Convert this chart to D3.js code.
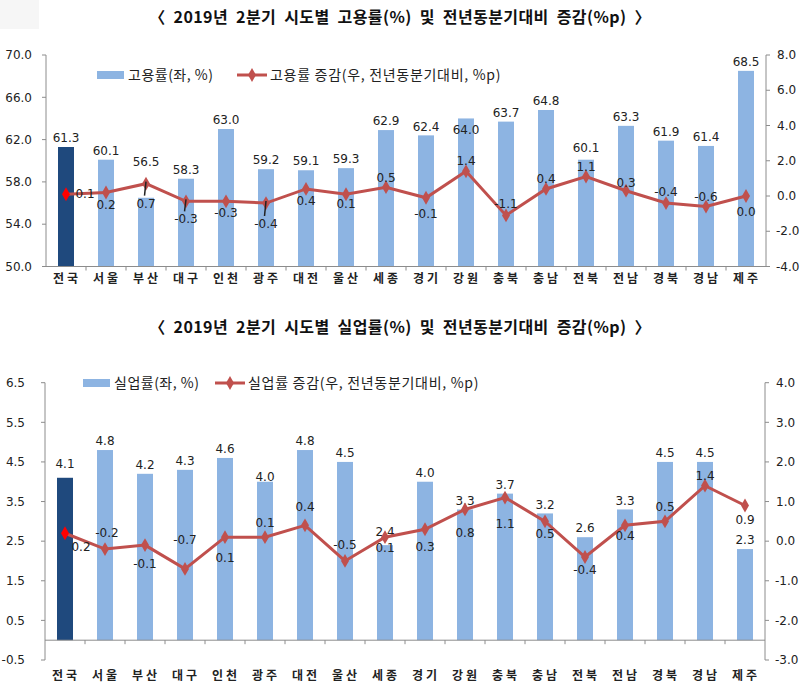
<!DOCTYPE html>
<html><head><meta charset="utf-8">
<script src="https://cdn.jsdelivr.net/npm/d3@7"></script>
<style>
body{margin:0;background:#fff;}
svg{display:block;}
</style></head>
<body>
<svg id="c" width="804" height="685"></svg>
<script>
// ---------- data ----------
const regions = ["전국","서울","부산","대구","인천","광주","대전","울산","세종","경기","강원","충북","충남","전북","전남","경북","경남","제주"];
const empRate = [61.3,60.1,56.5,58.3,63.0,59.2,59.1,59.3,62.9,62.4,64.0,63.7,64.8,60.1,63.3,61.9,61.4,68.5];
const empChange = [0.1,0.2,0.7,-0.3,-0.3,-0.4,0.4,0.1,0.5,-0.1,1.4,-1.1,0.4,1.1,0.3,-0.4,-0.6,0.0];
const unempRate = [4.1,4.8,4.2,4.3,4.6,4.0,4.8,4.5,2.4,4.0,3.3,3.7,3.2,2.6,3.3,4.5,4.5,2.3];
const unempChange = [0.2,-0.2,-0.1,-0.7,0.1,0.1,0.4,-0.5,0.1,0.3,0.8,1.1,0.5,-0.4,0.4,0.5,1.4,0.9];
const empLeftTicks = [50,54,58,62,66,70];
const empRightTicks = [-4,-2,0,2,4,6,8];
const unempLeftTicks = [-0.5,0.5,1.5,2.5,3.5,4.5,5.5,6.5];
const unempRightTicks = [-3,-2,-1,0,1,2,3,4];

// ---------- layout (label placement, not data) ----------
const empLabelDy = [0,12,20,18,12,21,12,10,-9,16,-11,-12,-10,-10,-8,-11,-10,16];
const empLabelDx = [19,0,0,0,0,0,0,0,0,0,0,0,0,0,0,0,0,0];
const empLeader = [2,3,5];
const unempLabelDy = [14,-16,19,-29,21,-14,-19,-16,11,18,23,26,12,13,10,-15,-10,14];
const unempLabelDx = [16,2,0,0,0,0,0,0,0,0,0,0,0,0,0,0,0,0];

const C_BAR = "#8DB4E2", C_BAR0 = "#1F497D", C_LINE = "#C0504D", C_AXIS = "#8c8c8c", C_TXT = "#222";
const NUM_FONT = "'DejaVu Sans', Verdana, sans-serif";
const KR_FONT = "'Noto Sans CJK KR', 'Noto Sans', sans-serif";
const fmt1 = v => v.toFixed(1);

const svg = d3.select("#c");
svg.append("rect").attr("x",0).attr("y",0).attr("width",39).attr("height",29).attr("fill","#f6f6f6");

function drawChart(o){
  const g = svg.append("g");
  const x = d3.scaleBand().domain(regions).range([o.x0, o.x1]).paddingInner(0.6).paddingOuter(0.3);
  const xb = d3.scaleBand().domain(regions).range([o.x0, o.x1]);
  const yL = d3.scaleLinear().domain(o.leftDomain).range([o.yBottom, o.yTop]);
  const yR = d3.scaleLinear().domain(o.rightDomain).range([o.yBottom, o.yTop]);
  const base = yL(o.barBase);

  // title
  g.append("text").attr("x",400).attr("y",o.titleY).attr("text-anchor","middle")
    .attr("font-family",KR_FONT).attr("font-weight","bold").attr("font-size",16)
    .attr("letter-spacing","0.4px").attr("word-spacing","4px").attr("fill","#111")
    .text(o.title);

  // left axis
  g.append("line").attr("x1",o.x0).attr("x2",o.x0).attr("y1",o.yTop).attr("y2",o.yBottom).attr("stroke",C_AXIS);
  o.leftTicks.forEach(t=>{
    g.append("line").attr("x1",o.x0-4).attr("x2",o.x0).attr("y1",yL(t)).attr("y2",yL(t)).attr("stroke",C_AXIS);
    g.append("text").attr("x",o.leftLabelX).attr("y",yL(t)).attr("dy","0.35em").attr("text-anchor","end")
      .attr("font-family",NUM_FONT).attr("font-size",12).attr("fill",C_TXT).text(fmt1(t));
  });
  // right axis
  g.append("line").attr("x1",o.x1).attr("x2",o.x1).attr("y1",o.yTop).attr("y2",o.yBottom).attr("stroke",C_AXIS);
  o.rightTicks.forEach(t=>{
    g.append("line").attr("x1",o.x1).attr("x2",o.x1+4).attr("y1",yR(t)).attr("y2",yR(t)).attr("stroke",C_AXIS);
    g.append("text").attr("x",o.x1+(t<0?10:11)).attr("y",yR(t)).attr("dy","0.35em").attr("text-anchor","start")
      .attr("font-family",NUM_FONT).attr("font-size",12).attr("fill",C_TXT).text(fmt1(t));
  });

  // bars
  g.selectAll(".bar").data(o.bars).join("rect")
    .attr("x",(d,i)=>x(regions[i])).attr("width",x.bandwidth())
    .attr("y",d=>Math.min(yL(d),base)).attr("height",d=>Math.abs(base-yL(d)))
    .attr("fill",(d,i)=>i===0?C_BAR0:C_BAR);

  // category axis
  g.append("line").attr("x1",o.x0).attr("x2",o.x1).attr("y1",base).attr("y2",base).attr("stroke",C_AXIS);
  regions.forEach((r,i)=>{
    const bx = xb(r);
    if(i>0) g.append("line").attr("x1",bx).attr("x2",bx).attr("y1",base).attr("y2",base+4).attr("stroke",C_AXIS);
    g.append("text").attr("x",bx+xb.bandwidth()/2+1).attr("y",o.catY).attr("text-anchor","middle")
      .attr("font-family",KR_FONT).attr("font-weight","bold").attr("font-size",12)
      .attr("letter-spacing","3px").attr("fill",C_TXT).text(r);
  });

  // bar labels
  g.selectAll(".bl").data(o.bars).join("text")
    .attr("x",(d,i)=>x(regions[i])+x.bandwidth()/2)
    .attr("y",(d,i)=>yL(d)-(o.barLabelOverride[i]!==undefined?o.barLabelOverride[i]:9))
    .attr("dy","0.35em").attr("text-anchor","middle")
    .attr("font-family",NUM_FONT).attr("font-size",12).attr("fill",C_TXT)
    .text(d=>fmt1(d));

  // line
  const cx = i => x(regions[i]) + x.bandwidth()/2;
  const line = d3.line().x((d,i)=>cx(i)).y(d=>yR(d));
  g.append("path").datum(o.line).attr("d",line).attr("fill","none").attr("stroke",C_LINE).attr("stroke-width",3);
  const diamond = d3.symbol().type(d3.symbolDiamond).size(55);
  g.selectAll(".pt").data(o.line).join("path")
    .attr("d",diamond).attr("transform",(d,i)=>`translate(${cx(i)},${yR(d)})`)
    .attr("fill",(d,i)=>i===0?"#FF0000":C_LINE);

  // leaders
  (o.leaders||[]).forEach(i=>{
    g.append("line").attr("x1",cx(i)).attr("x2",cx(i)-1.5).attr("y1",yR(o.line[i])-2).attr("y2",yR(o.line[i])+o.labelDy[i]-8)
      .attr("stroke","#222").attr("stroke-width",1.5);
  });
  // line labels
  g.selectAll(".ll").data(o.line).join("text")
    .attr("x",(d,i)=>cx(i)+o.labelDx[i]).attr("y",(d,i)=>yR(d)+o.labelDy[i])
    .attr("dy","0.35em").attr("text-anchor","middle")
    .attr("font-family",NUM_FONT).attr("font-size",12).attr("fill",C_TXT)
    .text(d=>fmt1(d));

  // legend
  const ly = o.legendY;
  g.append("rect").attr("x",o.legX).attr("y",ly-4).attr("width",27).attr("height",8).attr("fill",C_BAR);
  g.append("text").attr("x",o.legX+31).attr("y",ly).attr("dy","0.35em")
    .attr("font-family",KR_FONT).attr("font-size",14).attr("letter-spacing","0.5px").attr("fill",C_TXT).text(o.legBar);
  g.append("line").attr("x1",o.legX2).attr("x2",o.legX2+30).attr("y1",ly).attr("y2",ly).attr("stroke",C_LINE).attr("stroke-width",3);
  g.append("path").attr("d",diamond).attr("transform",`translate(${o.legX2+15},${ly})`).attr("fill",C_LINE);
  g.append("text").attr("x",o.legX2+33).attr("y",ly).attr("dy","0.35em")
    .attr("font-family",KR_FONT).attr("font-size",14).attr("letter-spacing","0.7px").attr("fill",C_TXT).text(o.legLine);
}

drawChart({
  title:"〈 2019년 2분기 시도별 고용률(%) 및 전년동분기대비 증감(%p) 〉", titleY:23,
  x0:46, x1:766, yTop:55, yBottom:266.5,
  leftDomain:[50,70], rightDomain:[-4,8], barBase:50,
  leftTicks:empLeftTicks, rightTicks:empRightTicks, leftLabelX:32,
  bars:empRate, line:empChange, labelDy:empLabelDy, labelDx:empLabelDx, leaders:empLeader,
  barLabelOverride:{2:36,10:-11,13:12},
  catY:283, legendY:75, legX:97, legX2:237,
  legBar:"고용률(좌, %)", legLine:"고용률 증감(우, 전년동분기대비, %p)"
});

drawChart({
  title:"〈 2019년 2분기 시도별 실업률(%) 및 전년동분기대비 증감(%p) 〉", titleY:333,
  x0:45, x1:765, yTop:382.7, yBottom:660,
  leftDomain:[-0.5,6.5], rightDomain:[-3,4], barBase:0,
  leftTicks:unempLeftTicks, rightTicks:unempRightTicks, leftLabelX:25,
  bars:unempRate, line:unempChange, labelDy:unempLabelDy, labelDx:unempLabelDx, leaders:[],
  barLabelOverride:{0:14,5:5,8:13},
  catY:680, legendY:383, legX:83, legX2:215,
  legBar:"실업률(좌, %)", legLine:"실업률 증감(우, 전년동분기대비, %p)"
});
</script>
</body></html>
